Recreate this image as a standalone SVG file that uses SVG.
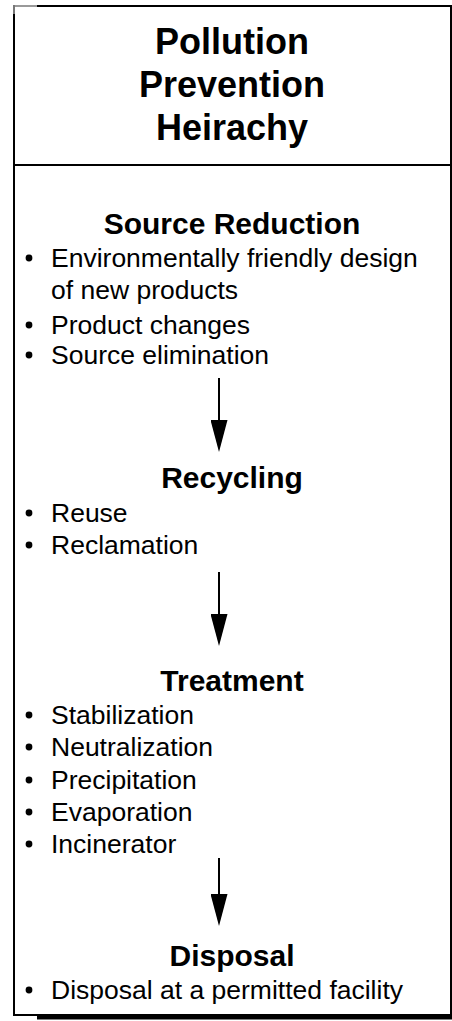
<svg xmlns="http://www.w3.org/2000/svg" width="452" height="1021" viewBox="0 0 452 1021">
<style>
.t{font-family:"Liberation Sans",Arial,sans-serif;font-weight:bold;font-size:36px;text-anchor:middle;fill:#000}
.h{font-family:"Liberation Sans",Arial,sans-serif;font-weight:bold;font-size:30px;text-anchor:middle;fill:#000}
.b{font-family:"Liberation Sans",Arial,sans-serif;font-size:26.5px;fill:#000}
.ln{stroke:#000;stroke-width:2;fill:none}
</style>
<defs>
<marker id="ah" markerWidth="32" markerHeight="17" refX="28" refY="8.5" orient="auto" markerUnits="userSpaceOnUse" viewBox="0 0 32 17">
<path d="M0,0 L32,8.5 L0,17 Z" fill="#000"/>
</marker>
</defs>
<rect x="0" y="0" width="452" height="1021" fill="#fff"/>
<g id="frame">
<line x1="37" y1="6" x2="451" y2="6" class="ln"/>
<line x1="14" y1="6" x2="37" y2="6" stroke="#999" stroke-width="2"/>
<line x1="14" y1="5" x2="14" y2="14" stroke="#777" stroke-width="2"/>
<line x1="14" y1="14" x2="14" y2="1016" class="ln"/>
<line x1="13" y1="1015" x2="450" y2="1015" class="ln"/>
<line x1="451" y1="5" x2="451" y2="1017" class="ln"/>
<line x1="14" y1="165" x2="450" y2="165" class="ln"/>
<line x1="37" y1="1017.5" x2="452" y2="1017.5" stroke="#000" stroke-width="4"/>
</g>
<g id="title">
<text class="t" x="232" y="54">Pollution</text>
<text class="t" x="232" y="97">Prevention</text>
<text class="t" x="232" y="140">Heirachy</text>
</g>
<g id="source-reduction">
<text class="h" x="232" y="234">Source Reduction</text>
<circle cx="29" cy="258" r="3.4"/><text class="b" x="51" y="267">Environmentally friendly design</text>
<text class="b" x="51" y="299">of new products</text>
<circle cx="29" cy="325" r="3.4"/><text class="b" x="51" y="334">Product changes</text>
<circle cx="29" cy="355" r="3.4"/><text class="b" x="51" y="364">Source elimination</text>
</g>
<g id="recycling">
<text class="h" x="232" y="488">Recycling</text>
<circle cx="29" cy="513" r="3.4"/><text class="b" x="51" y="522">Reuse</text>
<circle cx="29" cy="545" r="3.4"/><text class="b" x="51" y="554">Reclamation</text>
</g>
<g id="treatment">
<text class="h" x="232" y="691">Treatment</text>
<circle cx="29" cy="715" r="3.4"/><text class="b" x="51" y="724">Stabilization</text>
<circle cx="29" cy="747" r="3.4"/><text class="b" x="51" y="756">Neutralization</text>
<circle cx="29" cy="780" r="3.4"/><text class="b" x="51" y="789">Precipitation</text>
<circle cx="29" cy="812" r="3.4"/><text class="b" x="51" y="821">Evaporation</text>
<circle cx="29" cy="844" r="3.4"/><text class="b" x="51" y="853">Incinerator</text>
</g>
<g id="disposal">
<text class="h" x="232" y="966">Disposal</text>
<circle cx="29" cy="990" r="3.4"/><text class="b" x="51" y="999">Disposal at a permitted facility</text>
</g>
<g id="connectors">
<line x1="219" y1="378" x2="219" y2="448" class="ln" marker-end="url(#ah)"/>
<line x1="219" y1="572" x2="219" y2="642" class="ln" marker-end="url(#ah)"/>
<line x1="219" y1="858" x2="219" y2="922" class="ln" marker-end="url(#ah)"/>
</g>
</svg>
